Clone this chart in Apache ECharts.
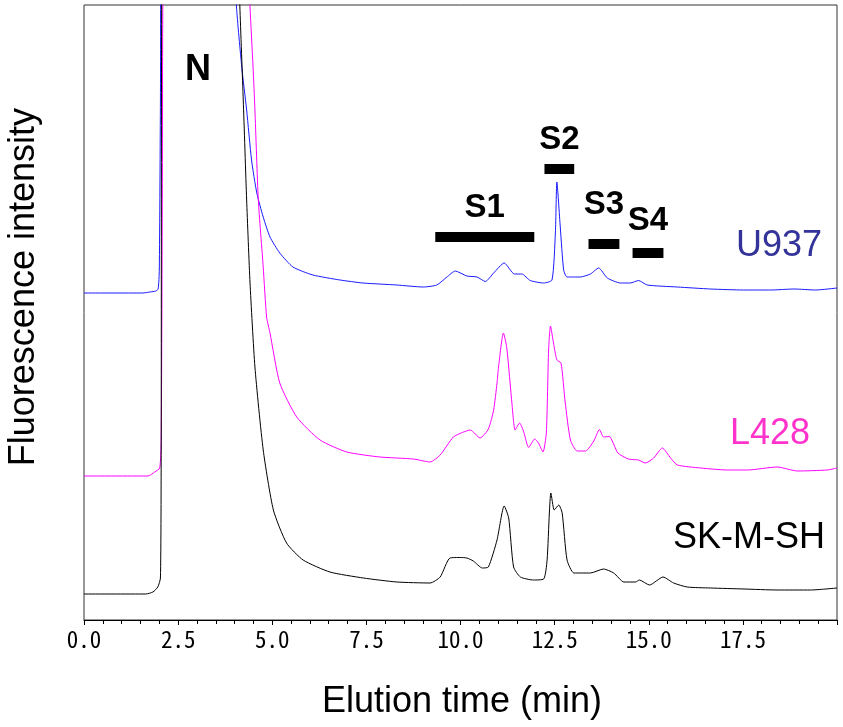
<!DOCTYPE html>
<html>
<head>
    <meta charset="utf-8" />
    <title>Elution profile</title>
    <script type="text/javascript" src="https://cdn.jsdelivr.net/npm/echarts@6/dist/echarts.min.js"></script>
    <style>
        html, body { margin: 0; padding: 0; background: #fff; }
        #main { width: 843px; height: 727px; }
    </style>
</head>
<body>
    <div id="main"></div>
    <script type="text/javascript">
        // elution time (min), intensity (a.u., traces offset)
        var u937 = [[0,327],[1.56,327],[1.75,328],[1.91,329],[1.97,331],[2.0,350],[2.03,520],[2.05,700],[2.4,720],[3.8,720],[4.02,650],[4.05,613],[4.19,553],[4.32,510],[4.45,460],[4.59,427],[4.76,403],[4.94,383],[5.2,367],[5.55,353],[6.08,345],[6.8,340],[7.41,337],[8.31,335],[9.01,333],[9.37,335],[9.64,343],[9.86,349],[10.17,344],[10.44,343],[10.66,338.5],[10.88,347],[11.16,357],[11.43,346],[11.63,346],[11.85,339.5],[12.21,337],[12.43,340],[12.52,387],[12.56,438],[12.65,393],[12.74,350],[12.83,343],[13.18,343],[13.45,346],[13.67,352],[13.9,342],[14.25,337],[14.51,337],[14.73,339.5],[14.96,335],[15.76,333],[16.64,331],[17.52,330],[18.24,330],[18.86,331],[19.43,330],[20,332]];
        var l428 = [[0,144],[1.7,144],[1.88,148],[2.01,152],[2.05,180],[2.08,420],[2.11,670],[2.4,720],[4.0,720],[4.38,650],[4.41,613],[4.49,553],[4.54,510],[4.63,420],[4.76,353],[4.85,303],[4.94,287],[5.2,237],[5.65,203],[6.27,180],[6.98,168],[7.86,163],[8.75,161],[9.19,158],[9.46,165],[9.81,183],[10.05,187.5],[10.26,190],[10.52,182],[10.74,191],[10.88,210],[10.97,237],[11.01,253],[11.14,287],[11.23,272],[11.37,215],[11.45,190],[11.57,197],[11.68,188],[11.81,172.5],[11.97,181],[12.07,177],[12.19,168],[12.28,187],[12.34,270],[12.39,294],[12.47,277],[12.56,260],[12.67,257],[12.78,218],[12.92,180],[13.1,169],[13.32,169],[13.54,179],[13.69,190.5],[13.8,183],[13.95,183.5],[14.18,167],[14.46,161],[14.73,160],[14.91,157],[15.13,162],[15.36,172],[15.58,162],[15.76,155],[16.38,152],[17.09,150],[17.62,150],[18.41,153],[18.95,149],[19.74,150],[20,152]];
        var skmsh = [[0,26],[1.64,26],[1.83,28],[1.96,33],[2.03,42],[2.05,170],[2.07,670],[2.4,720],[3.7,720],[4.11,650],[4.14,613],[4.23,520],[4.32,420],[4.41,337],[4.54,253],[4.76,170],[5.03,110],[5.38,77],[5.82,60],[6.53,48],[7.42,42],[8.31,38],[9.19,37],[9.46,43],[9.72,62],[9.99,62.5],[10.17,62],[10.34,59],[10.58,52],[10.74,53],[10.97,80],[11.16,114],[11.28,102],[11.41,53],[11.59,43],[11.94,40],[12.21,41],[12.3,60],[12.36,107],[12.4,127],[12.49,110],[12.61,115],[12.7,107],[12.83,60],[13.01,47],[13.23,47],[13.45,47],[13.8,51],[14.07,47],[14.34,38],[14.65,38],[14.75,40],[15.02,35],[15.38,43],[15.66,37],[16.02,33],[16.64,32],[17.53,31],[18.41,30],[19.3,30],[20,32]];

        // fraction bars
        var fracNames = ['S1', 'S2', 'S3', 'S4'];
        var fracStart = [9.33, 12.23, 13.40, 14.57];
        var fracEnd = [11.96, 13.02, 14.22, 15.39];
        var fracLevel = [383, 451, 376, 367];
        var fracGap = [13, 13, 23, 16];

        var myChart = echarts.init(document.getElementById('main'));

        var fracLines = fracNames.map(function (n, i) {
            return [
                { coord: [fracStart[i], fracLevel[i]], name: n, label: { distance: fracGap[i] } },
                { coord: [fracEnd[i], fracLevel[i]] }
            ];
        });

        var option = {
            animation: false,
            grid: { left: 84, right: 6, top: 5, bottom: 107, outerBoundsMode: 'none', containLabel: false,
                    show: true, borderColor: '#333', borderWidth: 1 },
            xAxis: {
                type: 'value', min: 0, max: 20, interval: 2.5,
                axisLine: { show: true, lineStyle: { color: '#000' } },
                axisTick: { show: true, length: 5, lineStyle: { color: '#000' } },
                minorTick: { show: true, splitNumber: 5, length: 4, lineStyle: { color: '#000' } },
                splitLine: { show: false },
                axisLabel: {
                    margin: 8, fontSize: 23, color: '#000',
                    fontFamily: "'Noto Sans Mono CJK JP', 'DejaVu Sans Mono', monospace",
                    formatter: function (v) { return v >= 20 ? '' : v.toFixed(1); }
                }
            },
            yAxis: {
                type: 'value', min: 0, max: 615,
                axisLine: { show: false }, axisTick: { show: false },
                axisLabel: { show: false }, splitLine: { show: false }
            },
            series: [
                {
                    name: 'U937', type: 'line', data: u937, showSymbol: false, smooth: 0.2,
                    lineStyle: { color: '#1a1aff', width: 1 },
                    markLine: {
                        silent: true, symbol: 'none',
                        lineStyle: { color: '#000', width: 10, type: 'solid', cap: 'butt' },
                        label: { position: 'middle', formatter: '{b}', color: '#000', fontSize: 33, fontWeight: 'bold', fontFamily: 'Liberation Sans, Arial' },
                        data: fracLines
                    }
                },
                { name: 'L428', type: 'line', data: l428, showSymbol: false, smooth: 0.2, lineStyle: { color: '#ff00ff', width: 1 } },
                { name: 'SK-M-SH', type: 'line', data: skmsh, showSymbol: false, smooth: 0.2, lineStyle: { color: '#000', width: 1 } }
            ],
            graphic: [
                { type: 'text', left: 185, top: 52, style: { text: 'N', font: 'bold 36px Liberation Sans, Arial', fill: '#000' } },
                { type: 'text', right: 21, top: 228, style: { text: 'U937', font: '36px Liberation Sans, Arial', fill: '#333399' } },
                { type: 'text', right: 33, top: 416, style: { text: 'L428', font: '36px Liberation Sans, Arial', fill: '#ff33cc' } },
                { type: 'text', right: 18, top: 520, style: { text: 'SK-M-SH', font: '36px Liberation Sans, Arial', fill: '#000' } },
                { type: 'text', left: 322, top: 684, style: { text: 'Elution time (min)', font: '36px Liberation Sans, Arial', fill: '#000' } },
                { type: 'text', left: 6, top: 108, rotation: Math.PI / 2, style: { text: 'Fluorescence intensity', font: '36px Liberation Sans, Arial', fill: '#000' } }
            ]
        };
        myChart.setOption(option);
    </script>
</body>
</html>
